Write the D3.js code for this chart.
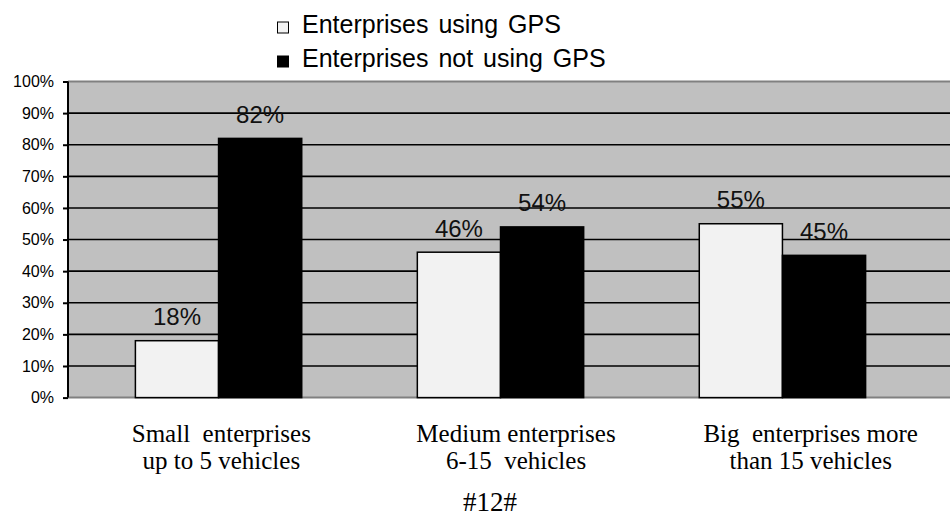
<!DOCTYPE html>
<html lang="en">

<head>
    <meta charset="UTF-8">
    <title>GPS usage by enterprise size</title>
    <script src="https://d3js.org/d3.v7.js"></script>
    <style>
        body { margin: 0; background: #fff; }
    </style>
</head>

<body>
    <div class="canvas"></div>

    <script>
        // data
        let categories = ["Small  enterprises|up to 5 vehicles", "Medium enterprises|6-15  vehicles", "Big  enterprises more|than 15 vehicles"];
        let series = ["Enterprises using GPS", "Enterprises not using GPS"];
        let usingGps = [18, 46, 55];
        let notUsingGps = [82, 54, 45];
        let yTicks = [0, 10, 20, 30, 40, 50, 60, 70, 80, 90, 100];
        let footnote = "#12#";

        let rows = categories.map((c, i) => ({ cat: c, values: [usingGps[i], notUsingGps[i]] }));

        let W = 950, H = 518;
        let plot = { left: 68, right: 950, top: 81.5, bottom: 397.6 };
        let fills = ["#f2f2f2", "#000000"];

        let svg = d3.select(".canvas").append("svg")
            .attr("width", W)
            .attr("height", H);

        // scales
        let x0 = d3.scaleBand()
            .domain(categories)
            .range([79, 922])
            .paddingInner(0.41)
            .paddingOuter(0.2);
        let x1 = d3.scaleBand()
            .domain([0, 1])
            .range([0, x0.bandwidth()]);
        let xLabel = d3.scaleBand()
            .domain(categories)
            .range([74, 958]);
        let y = d3.scaleLinear()
            .domain([0, 100])
            .range([plot.bottom, plot.top]);

        // plot background
        svg.append("rect")
            .attr("x", plot.left)
            .attr("y", plot.top)
            .attr("width", plot.right - plot.left)
            .attr("height", plot.bottom - plot.top)
            .attr("fill", "#c0c0c0");

        // gridlines
        svg.append("g").selectAll("line")
            .data(yTicks.filter(t => t > 0 && t < 100))
            .enter().append("line")
            .attr("x1", plot.left).attr("x2", plot.right)
            .attr("y1", d => y(d)).attr("y2", d => y(d))
            .attr("stroke", "#000")
            .attr("stroke-width", 1.6);

        // top + bottom border
        svg.append("g").selectAll("line")
            .data([0, 100])
            .enter().append("line")
            .attr("x1", plot.left).attr("x2", plot.right)
            .attr("y1", d => y(d)).attr("y2", d => y(d))
            .attr("stroke", "#808080")
            .attr("stroke-width", 2);

        // bars
        let groups = svg.append("g").selectAll(".grp")
            .data(rows)
            .enter().append("g")
            .attr("class", "grp")
            .attr("transform", d => "translate(" + x0(d.cat) + ",0)");
        groups.selectAll("rect")
            .data(d => d.values)
            .enter().append("rect")
            .attr("x", (d, i) => x1(i))
            .attr("y", d => y(d))
            .attr("width", x1.bandwidth())
            .attr("height", d => plot.bottom - y(d))
            .attr("fill", (d, i) => fills[i])
            .attr("stroke", "#000")
            .attr("stroke-width", 1.5);
        groups.selectAll(".barnum")
            .data(d => d.values)
            .enter().append("text")
            .attr("class", "barnum")
            .attr("x", (d, i) => x1(i) + x1.bandwidth() / 2)
            .attr("y", d => y(d) - 15.5)
            .attr("text-anchor", "middle")
            .attr("font-family", "Liberation Sans, Arial, sans-serif")
            .attr("font-size", "24px")
            .attr("fill", "#111")
            .text(d => d + "%");

        // y axis
        let yAxis = svg.append("g")
            .attr("transform", "translate(" + plot.left + ",0)")
            .call(d3.axisLeft(y).tickValues(yTicks).tickSize(5).tickPadding(9).tickFormat(d => d + "%"));
        yAxis.select(".domain").attr("stroke", "#000").attr("stroke-width", 2)
            .attr("d", "M0," + plot.top + "V" + plot.bottom);
        yAxis.selectAll(".tick line").attr("stroke", "#000").attr("stroke-width", 2);
        yAxis.selectAll(".tick text")
            .attr("font-family", "Liberation Sans, Arial, sans-serif")
            .attr("font-size", "16px")
            .attr("fill", "#000");

        // category labels
        let catText = svg.append("g").selectAll(".cat")
            .data(categories)
            .enter().append("text")
            .attr("class", "cat")
            .attr("x", d => xLabel(d) + xLabel.bandwidth() / 2)
            .attr("y", 442)
            .attr("text-anchor", "middle")
            .attr("font-family", "Liberation Serif, Times New Roman, serif")
            .attr("font-size", "25px")
            .attr("fill", "#000")
            .style("white-space", "pre");
        catText.selectAll("tspan")
            .data(d => d.split("|"))
            .enter().append("tspan")
            .attr("x", function () { return d3.select(this.parentNode).attr("x"); })
            .attr("dy", (d, i) => i === 0 ? 0 : 27)
            .text(d => d);

        // legend
        let legend = svg.append("g").selectAll(".leg")
            .data(series)
            .enter().append("g")
            .attr("class", "leg")
            .attr("transform", (d, i) => "translate(277," + (33 + i * 34) + ")");
        legend.append("rect")
            .attr("x", 0.5).attr("y", -11)
            .attr("width", 11).attr("height", 11)
            .attr("fill", (d, i) => fills[i])
            .attr("stroke", "#000")
            .attr("stroke-width", 1);
        legend.append("text")
            .attr("x", 25).attr("y", 0)
            .attr("font-family", "Liberation Sans, Arial, sans-serif")
            .attr("font-size", "25px")
            .attr("word-spacing", "3px")
            .attr("fill", "#000")
            .text(d => d);

        // footnote
        svg.append("text")
            .attr("x", 490).attr("y", 511)
            .attr("text-anchor", "middle")
            .attr("font-family", "Liberation Serif, Times New Roman, serif")
            .attr("font-size", "27px")
            .attr("fill", "#000")
            .text(footnote);
    </script>
</body>

</html>
